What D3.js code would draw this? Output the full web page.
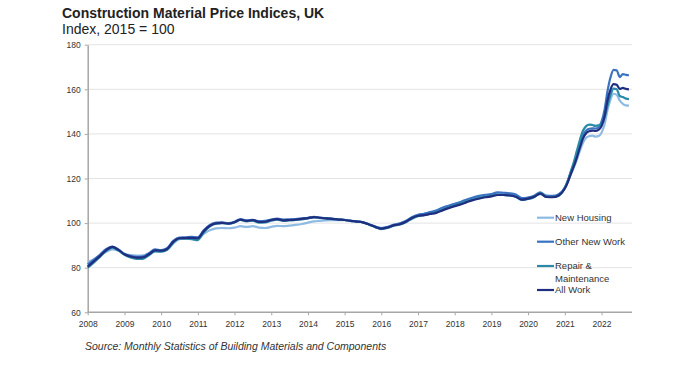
<!DOCTYPE html>
<html>
<head>
<meta charset="utf-8">
<script src="https://cdn.jsdelivr.net/npm/d3@7"></script>
<style>
  body { margin: 0; background: #fff; }
  svg { display: block; font-family: "Liberation Sans", Arial, sans-serif; }
</style>
</head>
<body>
<div id="chart"></div>
<script>
// periods: every 2 months to end of 2020, then monthly
var periods = [
  "2008-01","2008-03","2008-05","2008-07","2008-09","2008-11",
  "2009-01","2009-03","2009-05","2009-07","2009-09","2009-11",
  "2010-01","2010-03","2010-05","2010-07","2010-09","2010-11",
  "2011-01","2011-03","2011-05","2011-07","2011-09","2011-11",
  "2012-01","2012-03","2012-05","2012-07","2012-09","2012-11",
  "2013-01","2013-03","2013-05","2013-07","2013-09","2013-11",
  "2014-01","2014-03","2014-05","2014-07","2014-09","2014-11",
  "2015-01","2015-03","2015-05","2015-07","2015-09","2015-11",
  "2016-01","2016-03","2016-05","2016-07","2016-09","2016-11",
  "2017-01","2017-03","2017-05","2017-07","2017-09","2017-11",
  "2018-01","2018-03","2018-05","2018-07","2018-09","2018-11",
  "2019-01","2019-03","2019-05","2019-07","2019-09","2019-11",
  "2020-01","2020-03","2020-05","2020-07","2020-09","2020-11",
  "2021-01","2021-02","2021-03","2021-04","2021-05","2021-06",
  "2021-07","2021-08","2021-09","2021-10","2021-11","2021-12",
  "2022-01","2022-02","2022-03","2022-04","2022-05","2022-06",
  "2022-07","2022-08","2022-09","2022-10"
];

var newHousing = [
  82.5,83.8,85.5,87.0,88.2,87.6,
  86.2,85.6,85.4,85.5,86.4,87.6,
  87.3,88.0,90.8,92.8,93.2,93.6,
  93.6,95.2,96.8,97.6,97.8,97.7,
  98.0,98.6,98.3,98.6,98.0,97.8,
  98.3,98.8,98.6,98.9,99.2,99.6,
  100.2,100.8,101.0,101.2,101.3,101.3,
  101.3,101.0,100.7,100.3,99.5,98.5,
  97.9,98.3,99.2,99.8,100.9,102.5,
  103.6,104.2,104.9,105.6,106.8,107.7,
  108.5,109.3,110.3,111.2,111.9,112.4,
  112.8,113.3,113.3,113.0,112.4,111.0,
  111.3,112.0,113.0,111.9,111.8,112.8,
  115.8,118.6,121.8,125.0,128.5,132.5,136.0,138.3,139.0,139.2,138.8,139.0,
  140.5,144.5,150.5,155.5,158.0,157.5,155.0,153.5,152.8,152.7
];

var otherNewWork = [
  81.5,83.5,85.8,88.3,89.5,88.2,
  86.2,85.3,84.9,85.0,86.5,88.2,
  87.9,88.7,92.0,93.5,93.6,93.8,
  93.6,96.8,99.2,100.2,100.3,100.0,
  100.6,101.8,101.2,101.5,100.9,101.0,
  101.6,102.0,101.6,101.7,101.8,102.1,
  102.4,102.8,102.5,102.2,102.0,101.7,
  101.5,101.1,100.8,100.4,99.5,98.4,
  97.7,98.2,99.2,99.8,100.9,102.6,
  103.7,104.2,104.9,105.6,106.9,107.8,
  108.7,109.5,110.6,111.5,112.2,112.7,
  113.0,113.8,113.6,113.4,112.8,111.2,
  111.5,112.3,113.8,112.3,112.2,113.0,
  116.0,119.2,122.8,126.5,130.8,135.5,139.5,141.5,142.3,142.5,142.4,143.0,
  145.5,151.0,159.0,165.5,168.7,168.5,165.5,166.8,166.5,166.3
];

var repairMaint = [
  80.0,82.3,84.8,87.5,89.0,87.8,
  85.8,84.6,84.0,84.0,85.6,87.3,
  87.2,88.0,91.2,93.0,93.0,92.8,
  92.4,95.8,98.5,99.8,100.0,99.7,
  100.3,101.4,100.8,101.1,100.2,100.3,
  101.1,101.6,101.0,101.2,101.4,101.7,
  102.1,102.6,102.3,102.0,101.8,101.6,
  101.4,101.0,100.7,100.3,99.3,98.2,
  97.3,97.8,98.8,99.3,100.4,102.0,
  103.1,103.5,104.2,104.8,106.0,107.0,
  107.9,108.8,109.8,110.6,111.3,111.8,
  112.2,112.7,112.6,112.4,111.8,110.4,
  110.8,111.6,113.5,111.8,111.7,112.3,
  115.8,119.2,123.2,127.5,132.5,137.5,141.5,143.5,144.2,144.0,143.6,143.8,
  144.5,147.5,152.5,157.5,160.3,160.0,157.0,156.5,155.8,155.6
];

var allWork = [
  80.5,82.8,85.2,87.8,89.3,88.0,
  86.0,85.0,84.5,84.6,86.0,87.8,
  87.6,88.4,91.6,93.2,93.3,93.4,
  93.2,96.4,98.8,99.9,100.1,99.8,
  100.4,101.6,101.0,101.3,100.5,100.6,
  101.4,101.8,101.2,101.4,101.6,101.9,
  102.2,102.7,102.4,102.1,101.9,101.6,
  101.4,101.0,100.7,100.3,99.4,98.3,
  97.5,98.0,99.0,99.5,100.6,102.3,
  103.3,103.6,104.1,104.6,105.7,106.7,
  107.6,108.4,109.4,110.3,111.0,111.6,
  112.0,112.6,112.6,112.4,111.8,110.5,
  111.0,111.8,113.2,111.7,111.6,112.4,
  115.5,118.5,122.0,125.5,129.5,134.0,138.0,140.3,141.2,141.5,141.3,141.8,
  143.5,148.0,155.0,160.0,162.3,162.0,160.2,160.6,160.2,160.0
];

var seriesNames = ["New Housing", "Other New Work", "Repair & Maintenance", "All Work"];
var seriesColors = ["#8dbbe3", "#3b72c2", "#2a8aa8", "#1f2e7e"];
var yTicks = [60, 80, 100, 120, 140, 160, 180];

var W = 700, H = 366;
var plotL = 87.7, plotR = 632, plotT = 44.7, plotB = 312.3;

var parse = d3.timeParse("%Y-%m");
var dates = periods.map(parse);

var x = d3.scaleTime()
  .domain([new Date(2008, 0, 1), new Date(2023, 0, 1)])
  .range([plotL, plotL + 15 * 36.7]);
var y = d3.scaleLinear().domain([60, 180]).range([plotB, plotT]);

var svg = d3.select("#chart").append("svg")
  .attr("width", W).attr("height", H);

// grid
svg.append("g").selectAll("line")
  .data(yTicks.slice(1))
  .enter().append("line")
  .attr("x1", plotL).attr("x2", plotR)
  .attr("y1", function(d) { return y(d); })
  .attr("y2", function(d) { return y(d); })
  .attr("stroke", "#e3e3e3").attr("stroke-width", 1);

// y axis
var yAxis = svg.append("g")
  .attr("transform", "translate(" + plotL + ",0)")
  .call(d3.axisLeft(y).tickValues(yTicks).tickSize(3).tickPadding(4).tickSizeOuter(0));
yAxis.select(".domain").attr("stroke", "#a6a6a6").attr("stroke-width", 1.5);
yAxis.selectAll(".tick line").attr("stroke", "#a6a6a6");
yAxis.selectAll("text").attr("fill", "#333").style("font-size", "8.5px");

// x axis
var xAxis = svg.append("g")
  .attr("transform", "translate(0," + plotB + ")")
  .call(d3.axisBottom(x).ticks(d3.timeYear.every(1)).tickFormat(d3.timeFormat("%Y")).tickSize(3).tickPadding(6));
xAxis.select(".domain").remove();
xAxis.selectAll(".tick").filter(function(d) { return d.getFullYear() > 2022; }).remove();
xAxis.selectAll(".tick line").attr("stroke", "#a6a6a6");
xAxis.selectAll("text").attr("fill", "#333").style("font-size", "8.5px");
svg.append("line")
  .attr("x1", plotL).attr("x2", plotR)
  .attr("y1", plotB).attr("y2", plotB)
  .attr("stroke", "#a6a6a6").attr("stroke-width", 1.5);

// lines
var allSeries = [newHousing, otherNewWork, repairMaint, allWork];
var line = d3.line()
  .x(function(d, i) { return x(dates[i]); })
  .y(function(d) { return y(d); })
  .curve(d3.curveMonotoneX);

allSeries.forEach(function(s, k) {
  svg.append("path")
    .datum(s)
    .attr("fill", "none")
    .attr("stroke", seriesColors[k])
    .attr("stroke-width", 2.2)
    .attr("stroke-linejoin", "round")
    .attr("d", line);
});

// legend
var legendY = [217.7, 241.7, 266, 290];
var lg = svg.append("g").style("font-size", "9.5px").attr("fill", "#333");
seriesNames.forEach(function(name, k) {
  lg.append("line")
    .attr("x1", 537).attr("x2", 554)
    .attr("y1", legendY[k]).attr("y2", legendY[k])
    .attr("stroke", seriesColors[k]).attr("stroke-width", 2.2);
  if (name == "Repair & Maintenance") {
    var t = lg.append("text").attr("x", 555).attr("y", legendY[k] + 3.2);
    t.append("tspan").attr("x", 555).text("Repair &");
    t.append("tspan").attr("x", 555).attr("dy", 12.3).text("Maintenance");
  } else {
    lg.append("text").attr("x", 555).attr("y", legendY[k] + 3.2).text(name);
  }
});

// titles
svg.append("text")
  .attr("x", 62).attr("y", 17.5)
  .style("font-size", "14px").style("font-weight", "bold").attr("fill", "#222")
  .text("Construction Material Price Indices, UK");
svg.append("text")
  .attr("x", 62).attr("y", 34)
  .style("font-size", "14px").attr("fill", "#222")
  .text("Index, 2015 = 100");
svg.append("text")
  .attr("x", 85).attr("y", 350)
  .style("font-size", "10.5px").style("font-style", "italic").attr("fill", "#333")
  .text("Source: Monthly Statistics of Building Materials and Components");
</script>
</body>
</html>
